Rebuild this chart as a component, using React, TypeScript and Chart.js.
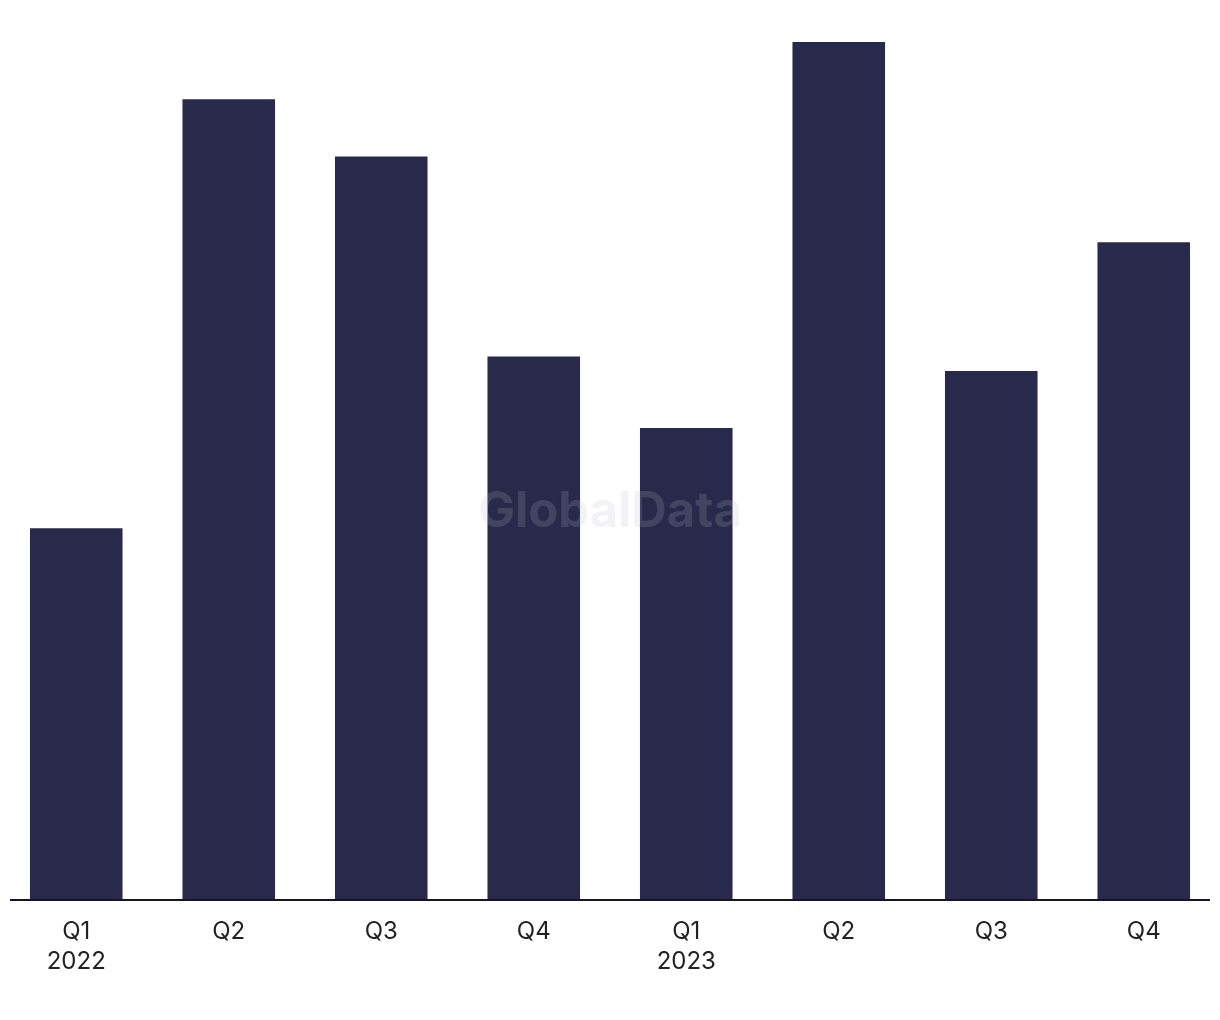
import React, { useEffect, useRef } from "react";
import { Chart, registerables } from "chart.js";

Chart.register(...registerables);

const quarters = ["Q1", "Q2", "Q3", "Q4", "Q1", "Q2", "Q3", "Q4"];
const years = ["2022", "", "", "", "2023", "", "", ""];
const dealCounts = [26, 56, 52, 38, 33, 60, 37, 46];

const BAR_COLOR = "#29294b";
const FONT = "Inter, 'Liberation Sans', Arial, sans-serif";

const extrasPlugin = {
  id: "extras",
  afterDatasetsDraw(chart: any) {
    const { ctx, chartArea } = chart;
    const y = chart.scales.y.getPixelForValue(0);
    ctx.save();
    ctx.strokeStyle = "#14142a";
    ctx.lineWidth = 2;
    ctx.beginPath();
    ctx.moveTo(chartArea.left + 10, y);
    ctx.lineTo(chartArea.right - 10, y);
    ctx.stroke();
    // watermark
    ctx.font = `bold 49px ${FONT}`;
    ctx.textAlign = "center";
    ctx.textBaseline = "middle";
    ctx.fillStyle = "rgba(190,190,205,0.18)";
    ctx.fillText("GlobalData", (chartArea.left + chartArea.right) / 2, 512);
    ctx.restore();
  },
};

export default function App() {
  const ref = useRef<HTMLCanvasElement | null>(null);
  useEffect(() => {
    const prevMargin = document.body.style.margin;
    document.body.style.margin = "0";
    const labels = quarters.map((q, i) => (years[i] ? [q, years[i]] : q));
    const chart = new Chart(ref.current!, {
      type: "bar",
      data: {
        labels,
        datasets: [
          {
            data: dealCounts,
            backgroundColor: BAR_COLOR,
            categoryPercentage: 1,
            barPercentage: 0.607,
          },
        ],
      },
      options: {
        animation: false,
        responsive: false,
        maintainAspectRatio: false,
        layout: { padding: { top: 42, left: 0, right: 0, bottom: 0 } },
        plugins: { legend: { display: false }, tooltip: { enabled: false } },
        scales: {
          y: { display: false, min: 0, max: 60 },
          x: {
            grid: { display: false, drawTicks: false },
            border: { display: false },
            ticks: {
              color: "#222222",
              padding: 17,
              maxRotation: 0,
              autoSkip: false,
              font: { family: FONT, size: 24, lineHeight: "30px" as any },
            },
            afterFit(scale: any) {
              scale.height = 120;
            },
          },
        },
      },
      plugins: [extrasPlugin],
    });
    return () => {
      chart.destroy();
      document.body.style.margin = prevMargin;
    };
  }, []);
  return (
    <div style={{ width: 1220, height: 1020 }}>
      <canvas ref={ref} width={1220} height={1020} style={{ display: "block" }} />
    </div>
  );
}
